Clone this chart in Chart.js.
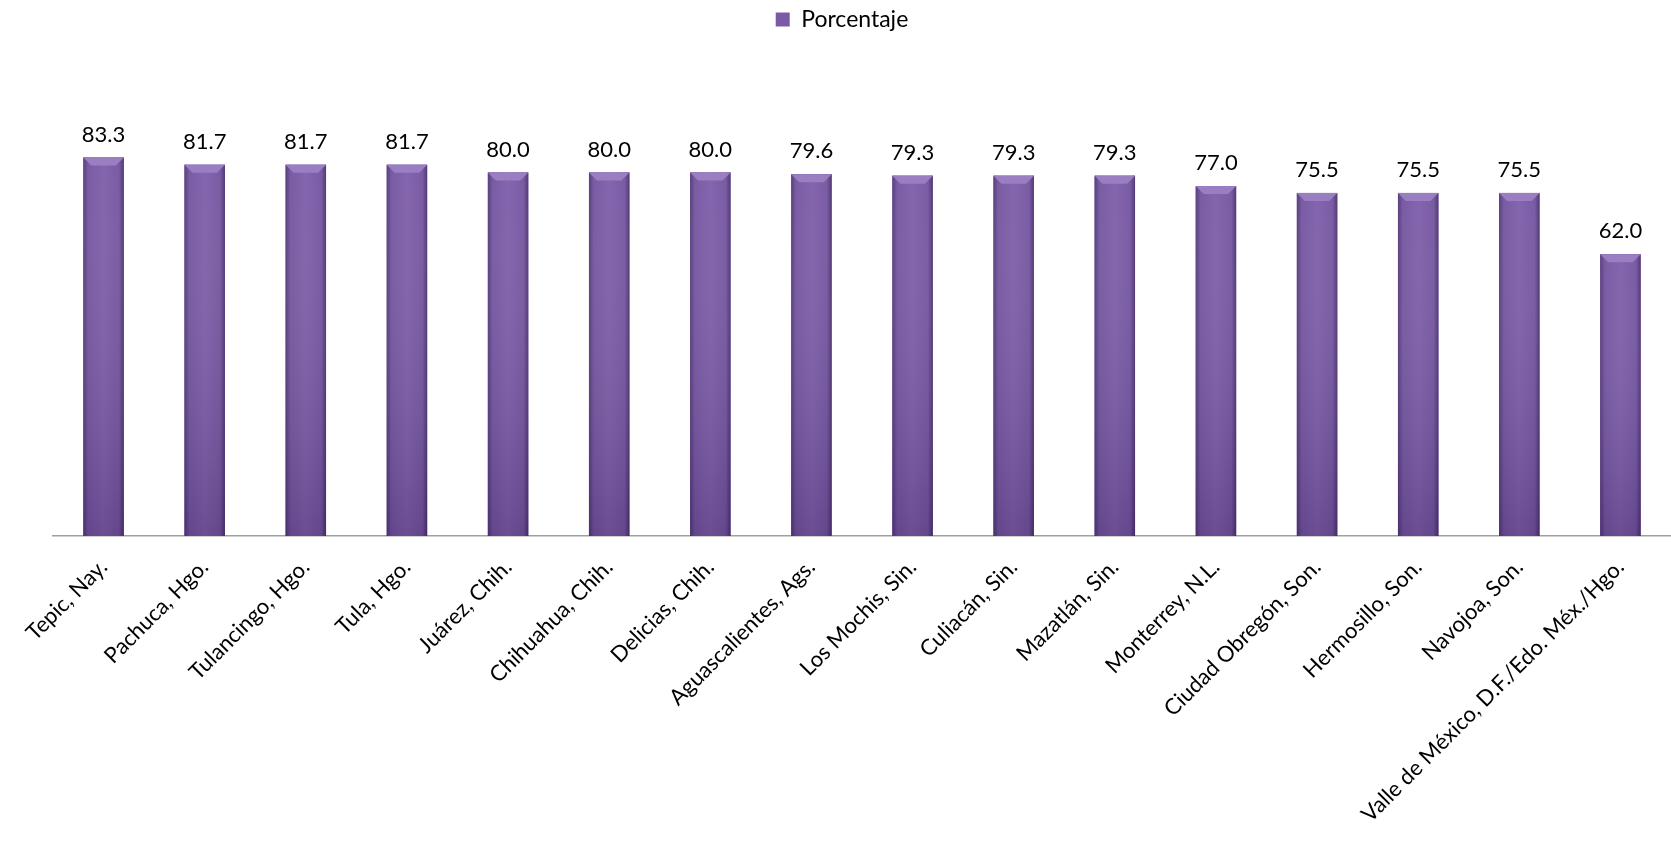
<!DOCTYPE html>
<html>
<head>
<meta charset="utf-8">
<script src="https://cdn.jsdelivr.net/npm/chart.js@4/dist/chart.umd.min.js"></script>
<style>
  html, body { margin: 0; padding: 0; background: #fff; }
  #wrap { width: 1671px; height: 861px; }
</style>
</head>
<body>
<div id="wrap"><canvas id="porcentajeChart"></canvas></div>
<script>
// Datos de la grafica
const ciudades = [
  'Tepic, Nay.', 'Pachuca, Hgo.', 'Tulancingo, Hgo.', 'Tula, Hgo.',
  'Juárez, Chih.', 'Chihuahua, Chih.', 'Delicias, Chih.', 'Aguascalientes, Ags.',
  'Los Mochis, Sin.', 'Culiacán, Sin.', 'Mazatlán, Sin.', 'Monterrey, N.L.',
  'Ciudad Obregón, Son.', 'Hermosillo, Son.', 'Navojoa, Son.',
  'Valle de México, D.F./Edo. Méx./Hgo.'
];
const porcentaje = [83.3, 81.7, 81.7, 81.7, 80.0, 80.0, 80.0, 79.6, 79.3, 79.3, 79.3, 77.0, 75.5, 75.5, 75.5, 62.0];
const serieNombre = 'Porcentaje';

const fuente = 'Lato, "Open Sans", sans-serif';

// Espacio extra debajo de la leyenda y leyenda un poco a la izquierda
const leyendaPlugin = {
  id: 'leyendaAlto',
  beforeInit(chart) {
    const fitOrig = chart.legend.fit;
    chart.legend.fit = function () {
      fitOrig.bind(chart.legend)();
      this.height += 86;
    };
  },
  afterLayout(chart) {
    chart.legend.left -= 20;
    chart.legend.right -= 20;
  }
};

// Efecto de bisel para las barras (estilo Excel)
const biselPlugin = {
  id: 'bisel',
  afterDatasetDraw(chart, args) {
    const ctx = chart.ctx;
    args.meta.data.forEach(bar => {
      const p = bar.getProps(['x', 'y', 'base', 'width'], true);
      const left = p.x - p.width / 2, right = p.x + p.width / 2;
      const top = p.y, bottom = p.base, b = 8;
      ctx.save();
      const g = ctx.createLinearGradient(left, 0, right, 0);
      g.addColorStop(0, '#523878');
      g.addColorStop(0.12, '#7455a0');
      g.addColorStop(0.5, '#7e5eaa');
      g.addColorStop(0.88, '#7455a0');
      g.addColorStop(1, '#4b3270');
      ctx.fillStyle = g;
      ctx.fillRect(left, top, p.width, bottom - top);
      // oscurecer hacia abajo
      const gv = ctx.createLinearGradient(0, top, 0, bottom);
      gv.addColorStop(0, 'rgba(255,255,255,0.04)');
      gv.addColorStop(1, 'rgba(30,10,60,0.2)');
      ctx.fillStyle = gv;
      ctx.fillRect(left, top, p.width, bottom - top);
      // bisel superior
      ctx.beginPath();
      ctx.moveTo(left, top);
      ctx.lineTo(right, top);
      ctx.lineTo(right - b, top + b);
      ctx.lineTo(left + b, top + b);
      ctx.closePath();
      ctx.fillStyle = '#9a7ec2';
      ctx.fill();
      ctx.restore();
    });
  }
};

// Etiquetas de datos sobre las barras
const etiquetasPlugin = {
  id: 'etiquetas',
  afterDatasetsDraw(chart) {
    const ctx = chart.ctx;
    const meta = chart.getDatasetMeta(0);
    ctx.save();
    ctx.font = '22px ' + fuente;
    ctx.fillStyle = '#000';
    ctx.textAlign = 'center';
    ctx.textBaseline = 'bottom';
    meta.data.forEach((bar, i) => {
      ctx.fillText(porcentaje[i].toFixed(1), bar.x, bar.y - 12);
    });
    ctx.restore();
  }
};

const ctxPorc = document.getElementById('porcentajeChart').getContext('2d');
const porcentajeChart = new Chart(ctxPorc, {
  type: 'bar',
  data: {
    labels: ciudades,
    datasets: [{
      label: serieNombre,
      data: porcentaje,
      backgroundColor: '#7a5aa6',
      borderWidth: 0,
      barPercentage: 0.4,
      categoryPercentage: 1.0
    }]
  },
  options: {
    responsive: true,
    maintainAspectRatio: false,
    animation: false,
    layout: { padding: { left: 53, right: 0, top: 0, bottom: 0 } },
    plugins: {
      legend: {
        position: 'top',
        labels: {
          font: { family: fuente, size: 23 },
          color: '#000',
          boxWidth: 14,
          boxHeight: 14,
          padding: 8
        }
      },
      tooltip: { enabled: false }
    },
    scales: {
      x: {
        grid: { display: false },
        border: { display: true, color: '#a0a0a0', width: 1.5 },
        ticks: {
          font: { family: fuente, size: 22 },
          color: '#000',
          minRotation: 45,
          maxRotation: 45,
          autoSkip: false,
          padding: 10
        },
        afterFit(scale) { scale.height = 325; }
      },
      y: {
        display: false,
        min: 0,
        max: 90
      }
    }
  },
  plugins: [leyendaPlugin, biselPlugin, etiquetasPlugin]
});
</script>
</body>
</html>
